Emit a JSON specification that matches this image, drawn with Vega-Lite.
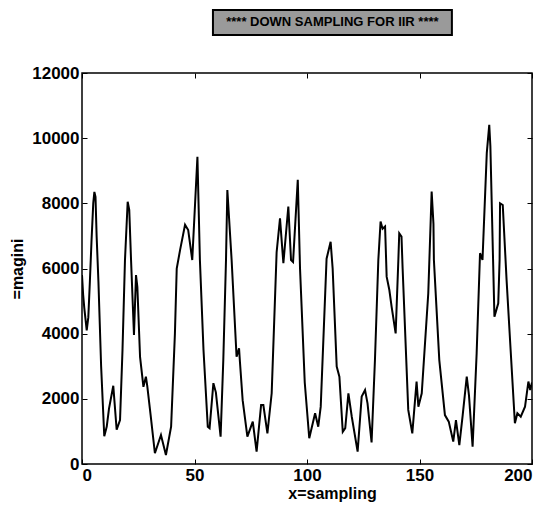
{
  "$schema": "https://vega.github.io/schema/vega-lite/v6.json",
  "width": 450,
  "height": 391,
  "autosize": "none",
  "padding": {"left": 82, "top": 73, "right": 27, "bottom": 56},
  "background": "white",
  "config": {
    "font": "Liberation Sans",
    "view": {"stroke": "black", "strokeWidth": 1.5},
    "axis": {
      "grid": false,
      "domain": false,
      "tickColor": "black",
      "tickWidth": 1,
      "tickSize": -5,
      "labelFont": "Liberation Sans",
      "labelFontWeight": "bold",
      "labelFontSize": 17,
      "labelColor": "black",
      "titleFont": "Liberation Sans",
      "titleFontWeight": "bold",
      "titleFontSize": 16,
      "titleColor": "black"
    }
  },
  "layer": [
    {
      "data": {"values": [
        {"sampling": 0, "magini": 5800},
        {"sampling": 0.5, "magini": 5200},
        {"sampling": 1, "magini": 4800},
        {"sampling": 2.1, "magini": 4100},
        {"sampling": 2.8, "magini": 4500},
        {"sampling": 3.5, "magini": 5600},
        {"sampling": 4.2, "magini": 6800},
        {"sampling": 5, "magini": 8000},
        {"sampling": 5.5, "magini": 8350},
        {"sampling": 6, "magini": 8200},
        {"sampling": 6.5, "magini": 7000},
        {"sampling": 7.3, "magini": 5600},
        {"sampling": 8.5, "magini": 3000},
        {"sampling": 9.9, "magini": 850},
        {"sampling": 11, "magini": 1150},
        {"sampling": 12, "magini": 1700},
        {"sampling": 13.9, "magini": 2400},
        {"sampling": 15.4, "magini": 1050},
        {"sampling": 16.9, "magini": 1350},
        {"sampling": 18, "magini": 3500},
        {"sampling": 19.1, "magini": 6260},
        {"sampling": 20.3, "magini": 8050},
        {"sampling": 21, "magini": 7800},
        {"sampling": 21.8, "magini": 6260},
        {"sampling": 23.1, "magini": 3960},
        {"sampling": 24, "magini": 5800},
        {"sampling": 24.6, "magini": 5440},
        {"sampling": 25.8, "magini": 3290},
        {"sampling": 27.3, "magini": 2370},
        {"sampling": 28.4, "magini": 2680},
        {"sampling": 29, "magini": 2400},
        {"sampling": 30.5, "magini": 1500},
        {"sampling": 32.4, "magini": 330},
        {"sampling": 35.1, "magini": 890},
        {"sampling": 37.3, "magini": 276},
        {"sampling": 39.6, "magini": 1145},
        {"sampling": 41.3, "magini": 4010},
        {"sampling": 42.1, "magini": 6000},
        {"sampling": 43.6, "magini": 6570},
        {"sampling": 45.8, "magini": 7340},
        {"sampling": 47.2, "magini": 7180},
        {"sampling": 49, "magini": 6260},
        {"sampling": 51.3, "magini": 9430},
        {"sampling": 52.4, "magini": 6260},
        {"sampling": 54, "magini": 3500},
        {"sampling": 55.9, "magini": 1145},
        {"sampling": 56.7, "magini": 1100},
        {"sampling": 58.4, "magini": 2480},
        {"sampling": 59.5, "magini": 2200},
        {"sampling": 61.6, "magini": 840},
        {"sampling": 62.8, "magini": 3190},
        {"sampling": 64, "magini": 6260},
        {"sampling": 64.6, "magini": 8410},
        {"sampling": 66.5, "magini": 6260},
        {"sampling": 68.7, "magini": 3290},
        {"sampling": 69.8, "magini": 3550},
        {"sampling": 70.2, "magini": 3130},
        {"sampling": 71.4, "magini": 1960},
        {"sampling": 73.5, "magini": 840},
        {"sampling": 75.9, "magini": 1300},
        {"sampling": 77.6, "magini": 380},
        {"sampling": 79.6, "magini": 1810},
        {"sampling": 80.6, "magini": 1810},
        {"sampling": 82.4, "magini": 940},
        {"sampling": 84.3, "magini": 2170},
        {"sampling": 86.5, "magini": 6500},
        {"sampling": 88, "magini": 7540},
        {"sampling": 89.5, "magini": 6160},
        {"sampling": 91.7, "magini": 7900},
        {"sampling": 92.9, "magini": 6260},
        {"sampling": 93.8, "magini": 6200},
        {"sampling": 95.9, "magini": 8720},
        {"sampling": 96.9, "magini": 6000},
        {"sampling": 99, "magini": 2500},
        {"sampling": 101, "magini": 790},
        {"sampling": 103.6, "magini": 1560},
        {"sampling": 105, "magini": 1145},
        {"sampling": 106.1, "magini": 1760},
        {"sampling": 108.7, "magini": 6300},
        {"sampling": 110.5, "magini": 6820},
        {"sampling": 111.4, "magini": 6000},
        {"sampling": 113.2, "magini": 2990},
        {"sampling": 114.4, "magini": 2680},
        {"sampling": 115.9, "magini": 990},
        {"sampling": 117, "magini": 1100},
        {"sampling": 118.4, "magini": 2170},
        {"sampling": 119.9, "magini": 1450},
        {"sampling": 122.5, "magini": 380},
        {"sampling": 124.3, "magini": 2070},
        {"sampling": 125.8, "magini": 2270},
        {"sampling": 126.9, "magini": 1860},
        {"sampling": 128.7, "magini": 660},
        {"sampling": 130.2, "magini": 3190},
        {"sampling": 131.7, "magini": 6260},
        {"sampling": 132.7, "magini": 7440},
        {"sampling": 133.6, "magini": 7220},
        {"sampling": 134.7, "magini": 7290},
        {"sampling": 135.4, "magini": 5750},
        {"sampling": 136.6, "magini": 5340},
        {"sampling": 137.6, "magini": 4830},
        {"sampling": 139.4, "magini": 4010},
        {"sampling": 140.6, "magini": 6260},
        {"sampling": 141, "magini": 7080},
        {"sampling": 142, "magini": 6980},
        {"sampling": 142.5, "magini": 6000},
        {"sampling": 145, "magini": 1660},
        {"sampling": 146.8, "magini": 940},
        {"sampling": 148.7, "magini": 2530},
        {"sampling": 149.5, "magini": 1760},
        {"sampling": 151, "magini": 2170},
        {"sampling": 153.9, "magini": 5240},
        {"sampling": 155.4, "magini": 8360},
        {"sampling": 156.2, "magini": 7370},
        {"sampling": 156.4, "magini": 6260},
        {"sampling": 158.8, "magini": 3190},
        {"sampling": 161.3, "magini": 1500},
        {"sampling": 163, "magini": 1300},
        {"sampling": 165, "magini": 690},
        {"sampling": 166.2, "magini": 1350},
        {"sampling": 167.7, "magini": 580},
        {"sampling": 169.2, "magini": 1500},
        {"sampling": 171, "magini": 2680},
        {"sampling": 172, "magini": 2100},
        {"sampling": 173.6, "magini": 530},
        {"sampling": 175.4, "magini": 3400},
        {"sampling": 176.9, "magini": 6470},
        {"sampling": 178, "magini": 6260},
        {"sampling": 179.9, "magini": 9540},
        {"sampling": 181, "magini": 10410},
        {"sampling": 181.5, "magini": 9750},
        {"sampling": 182.7, "magini": 6260},
        {"sampling": 183.3, "magini": 4520},
        {"sampling": 185, "magini": 4930},
        {"sampling": 185.6, "magini": 6260},
        {"sampling": 185.8, "magini": 8000},
        {"sampling": 187, "magini": 7950},
        {"sampling": 188.7, "magini": 5650},
        {"sampling": 190.5, "magini": 3500},
        {"sampling": 192.4, "magini": 1250},
        {"sampling": 193.5, "magini": 1560},
        {"sampling": 195, "magini": 1450},
        {"sampling": 196.9, "magini": 1760},
        {"sampling": 198.4, "magini": 2530},
        {"sampling": 199.2, "magini": 2270},
        {"sampling": 200, "magini": 2500}
      ]},
      "mark": {"type": "line", "color": "black", "strokeWidth": 2, "clip": true},
      "encoding": {
        "x": {
          "field": "sampling", "type": "quantitative",
          "scale": {"domain": [0, 200], "nice": false, "zero": false},
          "axis": {"orient": "bottom", "values": [0, 50, 100, 150, 200], "title": "x=sampling", "labelPadding": 8, "titlePadding": 2, "titleX": 250}
        },
        "y": {
          "field": "magini", "type": "quantitative",
          "scale": {"domain": [0, 12000], "nice": false},
          "axis": {"orient": "left", "values": [0, 2000, 4000, 6000, 8000, 10000, 12000], "format": "d", "title": "=magini", "labelPadding": 8, "titlePadding": 6}
        }
      }
    },
    {
      "data": {"values": [{"label": "**** DOWN SAMPLING FOR IIR ****", "x1": 58.2, "x2": 164.4, "y1": 13166, "y2": 13933}]},
      "mark": {"type": "rect", "fill": "#9a9a9a", "stroke": "black", "strokeWidth": 2},
      "encoding": {
        "x": {"field": "x1", "type": "quantitative", "axis": {"orient": "top", "labels": false, "title": null, "values": [0, 50, 100, 150, 200]}},
        "x2": {"field": "x2"},
        "y": {"field": "y1", "type": "quantitative", "axis": {"orient": "right", "labels": false, "title": null, "values": [0, 2000, 4000, 6000, 8000, 10000, 12000]}},
        "y2": {"field": "y2"}
      }
    },
    {
      "data": {"values": [{"label": "**** DOWN SAMPLING FOR IIR ****", "xc": 111.3, "yc": 13550}]},
      "mark": {"type": "text", "font": "Liberation Sans", "fontWeight": "bold", "fontSize": 13, "color": "black", "align": "center", "baseline": "middle"},
      "encoding": {
        "x": {"field": "xc", "type": "quantitative", "axis": null},
        "y": {"field": "yc", "type": "quantitative", "axis": null},
        "text": {"field": "label"}
      }
    }
  ]
}
